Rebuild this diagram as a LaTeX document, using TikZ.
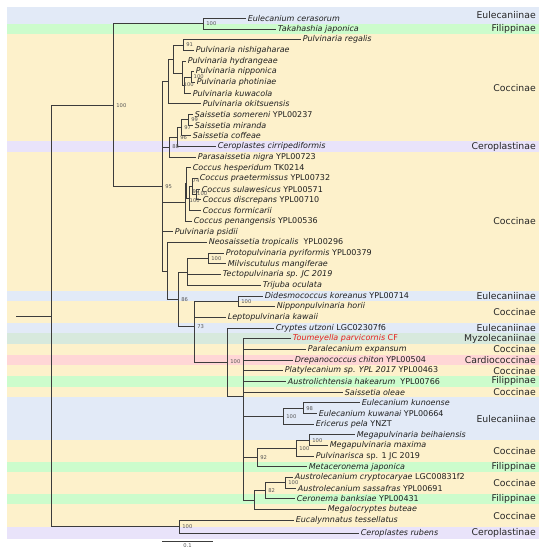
\documentclass[tikz,border=0pt]{standalone}
\usepackage{fontspec}
\newfontfamily\dv{DejaVu Sans}
\definecolor{cEu}{RGB}{226,234,247}
\definecolor{cFi}{RGB}{204,252,204}
\definecolor{cCo}{RGB}{253,241,203}
\definecolor{cCe}{RGB}{233,227,250}
\definecolor{cMy}{RGB}{215,233,221}
\definecolor{cCa}{RGB}{255,214,214}
\definecolor{cBr}{RGB}{60,60,60}
\definecolor{cBs}{RGB}{85,85,85}
\definecolor{cRed}{RGB}{230,30,30}
\newcommand\mkleaf[4]{\coordinate (#1) at (#2,#3); \node[tx] (#1t) at (#1) {#4};}
\newcommand\mkband[5]{\fill[#2] (7,#3) rectangle (539,#4); \node[sf] (#1) at (536,{(#3+#4)/2}) {#5};}
\newcommand\cod[1]{{\upshape #1}}
\begin{document}
\begin{tikzpicture}[x=1pt,y=-1pt,
 brl/.style={draw=cBr,line width=0.95pt},
 tx/.style={anchor=west,inner xsep=1.6pt,inner ysep=0pt,font=\fontsize{8}{9}\selectfont\dv\itshape,text=black!88},
 bs/.style={anchor=west,inner xsep=1.2pt,inner ysep=0pt,xshift=2pt,font=\fontsize{5.2}{6}\selectfont\dv,text=cBs},
 bsa/.style={anchor=west,inner sep=0pt,font=\fontsize{5.2}{6}\selectfont\dv,text=cBs},
 sf/.style={anchor=east,inner sep=0pt,font=\fontsize{9.3}{11}\selectfont\dv,text=black!85}]
\useasboundingbox (0,0) rectangle (547,550);
% ---- bands
\mkband{s1}{cEu}{7}{23.65}{Eulecaniinae}
\mkband{s2}{cFi}{23.65}{34.35}{Filippinae}
\mkband{s3}{cCo}{34.35}{141.15}{Coccinae}
\mkband{s4}{cCe}{141.15}{151.8}{Ceroplastinae}
\mkband{s5}{cCo}{151.8}{290.65}{Coccinae}
\mkband{s6}{cEu}{290.65}{301.35}{Eulecaniinae}
\mkband{s7}{cCo}{301.35}{322.65}{Coccinae}
\mkband{s8}{cEu}{322.65}{333.35}{Eulecaniinae}
\mkband{s9}{cMy}{333.35}{344.05}{Myzolecaniinae}
\mkband{s10}{cCo}{344.05}{354.75}{Coccinae}
\mkband{s11}{cCa}{354.75}{365.4}{Cardiococcinae}
\mkband{s12}{cCo}{365.4}{376.05}{Coccinae}
\mkband{s13}{cFi}{376.05}{386.75}{Filippinae}
\mkband{s14}{cCo}{386.75}{397.45}{Coccinae}
\mkband{s15}{cEu}{397.45}{440.15}{Eulecaniinae}
\mkband{s16}{cCo}{440.15}{461.55}{Coccinae}
\mkband{s17}{cFi}{461.55}{472.2}{Filippinae}
\mkband{s18}{cCo}{472.2}{493.55}{Coccinae}
\mkband{s19}{cFi}{493.55}{504.25}{Filippinae}
\mkband{s20}{cCo}{504.25}{527}{Coccinae}
\mkband{s21}{cCe}{527}{539}{Ceroplastinae}
% ---- leaves
\mkleaf{L1}{246}{18.3}{Eulecanium cerasorum}
\mkleaf{L2}{276}{29.0}{Takahashia japonica}
\mkleaf{L3}{301}{39.7}{Pulvinaria regalis}
\mkleaf{L4}{194}{50.3}{Pulvinaria nishigaharae}
\mkleaf{L5}{186}{61.0}{Pulvinaria hydrangeae}
\mkleaf{L6}{194}{71.7}{Pulvinaria nipponica}
\mkleaf{L7}{195}{82.4}{Pulvinaria photiniae}
\mkleaf{L8}{191}{93.1}{Pulvinaria kuwacola}
\mkleaf{L9}{201}{103.7}{Pulvinaria okitsuensis}
\mkleaf{L10}{193}{114.4}{Saissetia somereni \cod{YPL00237}}
\mkleaf{L11}{193}{125.1}{Saissetia miranda}
\mkleaf{L12}{191}{135.8}{Saissetia coffeae}
\mkleaf{L13}{216}{146.5}{Ceroplastes cirripediformis}
\mkleaf{L14}{196}{157.1}{Parasaissetia nigra \cod{YPL00723}}
\mkleaf{L15}{191}{167.8}{Coccus hesperidum \cod{TK0214}}
\mkleaf{L16}{198}{178.5}{Coccus praetermissus \cod{YPL00732}}
\mkleaf{L17}{200}{189.2}{Coccus sulawesicus \cod{YPL00571}}
\mkleaf{L18}{201}{199.9}{Coccus discrepans \cod{YPL00710}}
\mkleaf{L19}{201}{210.5}{Coccus formicarii}
\mkleaf{L20}{192}{221.2}{Coccus penangensis \cod{YPL00536}}
\mkleaf{L21}{173}{231.9}{Pulvinaria psidii}
\mkleaf{L22}{207}{242.6}{Neosaissetia tropicalis\ \ \cod{YPL00296}}
\mkleaf{L23}{224}{253.3}{Protopulvinaria pyriformis \cod{YPL00379}}
\mkleaf{L24}{226}{263.9}{Milviscutulus mangiferae}
\mkleaf{L25}{221}{274.6}{Tectopulvinaria sp. JC 2019}
\mkleaf{L26}{261}{285.3}{Trijuba oculata}
\mkleaf{L27}{263}{296.0}{Didesmococcus koreanus \cod{YPL00714}}
\mkleaf{L28}{275}{306.7}{Nipponpulvinaria horii}
\mkleaf{L29}{226}{317.3}{Leptopulvinaria kawaii}
\mkleaf{L30}{274}{328.0}{Cryptes utzoni \cod{LGC02307f6}}
\mkleaf{L31}{291}{338.7}{\color{cRed}Toumeyella parvicornis \cod{CF}}
\mkleaf{L32}{306}{349.4}{Paralecanium expansum}
\mkleaf{L33}{293}{360.1}{Drepanococcus chiton \cod{YPL00504}}
\mkleaf{L34}{283}{370.7}{Platylecanium sp. YPL 2017 \cod{YPL00463}}
\mkleaf{L35}{286}{381.4}{Austrolichtensia hakearum\ \ \cod{YPL00766}}
\mkleaf{L36}{343}{392.1}{Saissetia oleae}
\mkleaf{L37}{360}{402.8}{Eulecanium kunoense}
\mkleaf{L38}{317}{413.5}{Eulecanium kuwanai \cod{YPL00664}}
\mkleaf{L39}{314}{424.1}{Ericerus pela \cod{YNZT}}
\mkleaf{L40}{355}{434.8}{Megapulvinaria beihaiensis}
\mkleaf{L41}{328}{445.5}{Megapulvinaria maxima}
\mkleaf{L42}{314}{456.2}{Pulvinarisca \cod{sp. 1 JC 2019}}
\mkleaf{L43}{307}{466.9}{Metaceronema japonica}
\mkleaf{L44}{293}{477.5}{Austrolecanium cryptocaryae \cod{LGC00831f2}}
\mkleaf{L45}{296}{488.2}{Austrolecanium sassafras \cod{YPL00691}}
\mkleaf{L46}{295}{498.9}{Ceronema banksiae \cod{YPL00431}}
\mkleaf{L47}{326}{509.6}{Megalocryptes buteae}
\mkleaf{L48}{294}{520.3}{Eucalymnatus tessellatus}
\mkleaf{L49}{359}{533.5}{Ceroplastes rubens}
% ---- internal nodes
\coordinate (root0) at (16,316.05);
\coordinate (R) at (51,316.05);
\coordinate (A) at (113,105.2);
\coordinate (E) at (179,526.9);
\coordinate (B) at (203,23.65);
\coordinate (C) at (162,186.75);
\coordinate (P0) at (168,81.35);
\coordinate (n173) at (173,59.0);
\coordinate (n91) at (183,45.0);
\coordinate (H) at (182,73.05);
\coordinate (H2) at (184,85.1);
\coordinate (H3) at (191,77.05);
\coordinate (n88) at (169,147.1);
\coordinate (n96) at (177,137.15);
\coordinate (n97) at (181,127.8);
\coordinate (n99) at (188,119.75);
\coordinate (K0) at (185,202.2);
\coordinate (K1) at (186,183.15);
\coordinate (K2) at (189,198.5);
\coordinate (K2a) at (192,186.5);
\coordinate (K3) at (196,194.55);
\coordinate (G) at (167,271.2);
\coordinate (n86) at (178,299.85);
\coordinate (n187) at (187,272.8);
\coordinate (Pn) at (208,258.6);
\coordinate (n73) at (194,326.9);
\coordinate (Dn) at (238,301.35);
\coordinate (n227) at (227,362.1);
\coordinate (n243) at (243,396.26);
\coordinate (Eun) at (283,416.1);
\coordinate (n98) at (303,408.15);
\coordinate (n92) at (257,457.55);
\coordinate (M1) at (296,448.2);
\coordinate (M2) at (309,440.15);
\coordinate (n254) at (254,500.25);
\coordinate (n82) at (265,490.9);
\coordinate (Aun) at (285,482.85);
% ---- branches
\draw[brl] (root0) -- (R);
\foreach \p/\c in {R/A,R/E,A/B,A/C,B/L1,B/L2,E/L48,E/L49,
  C/P0,C/n88,C/K0,C/L21,C/G,
  P0/n173,P0/L9,n173/n91,n173/H,n91/L3,n91/L4,H/L5,H/H2,H2/H3,H2/L8,H3/L6,H3/L7,
  n88/n96,n88/L14,n96/n97,n96/L13,n97/n99,n97/L12,n99/L10,n99/L11,
  K0/K1,K0/L20,K1/L15,K1/K2,K2/K2a,K2/L19,K2a/L16,K2a/K3,K3/L17,K3/L18,
  G/L22,G/n86,n86/n187,n86/n73,n187/Pn,n187/L25,n187/L26,Pn/L23,Pn/L24,
  n73/Dn,n73/L29,n73/n227,Dn/L27,Dn/L28,n227/L30,n227/n243,
  n243/L31,n243/L32,n243/L33,n243/L34,n243/L35,n243/L36,n243/Eun,n243/n92,n243/n254,
  Eun/n98,Eun/L39,n98/L37,n98/L38,n92/M1,n92/L43,M1/M2,M1/L42,M2/L40,M2/L41,
  n254/n82,n254/L47,n82/Aun,n82/L46,Aun/L44,Aun/L45}
  {\draw[brl] (\p) |- (\c);}
% ---- support values
\node[bs] (bA) at (A) {100};
\node[bs] (bB) at (B) {100};
\node[bs] (bE) at (E) {100};
\node[bs] (bC) at (C) {95};
\node[bs] (b91) at (n91) {91};
\node[bsa] (bH3) at (193.5,77) {100};
\node[bsa] (bH2) at (183.5,84.5) {100};
\node[bs] (b99) at (n99) {99};
\node[bs] (b97) at (n97) {97};
\node[bs] (b96) at (n96) {96};
\node[bs] (b88) at (n88) {88};
\node[bsa] (bK1) at (192.5,181) {74};
\node[bsa] (bK2a) at (192.5,191.5) {99};
\node[bsa] (bK3) at (197,193.5) {100};
\node[bsa] (bK2) at (189.5,201) {100};
\node[bs] (bPn) at (Pn) {100};
\node[bs] (b86) at (n86) {86};
\node[bs] (b73) at (n73) {73};
\node[bs] (bDn) at (Dn) {100};
\node[bs] (b227) at (n227) {100};
\node[bs] (b98) at (n98) {98};
\node[bs] (bEun) at (Eun) {100};
\node[bs] (bM2) at (M2) {100};
\node[bs] (bM1) at (M1) {100};
\node[bs] (b92) at (n92) {92};
\node[bs] (bAun) at (Aun) {100};
\node[bs] (b82) at (n82) {82};
% ---- scale bar
\coordinate (sb1) at (162,541.7);
\coordinate (sb2) at (213,541.7);
\draw[draw=cBr,line width=0.8pt] (sb1) -- (sb2);
\node[font=\fontsize{5.2}{6}\selectfont\dv,text=cBs,inner sep=0pt,anchor=north] (sbl) at (187.5,543) {0.1};
\end{tikzpicture}
\end{document}
